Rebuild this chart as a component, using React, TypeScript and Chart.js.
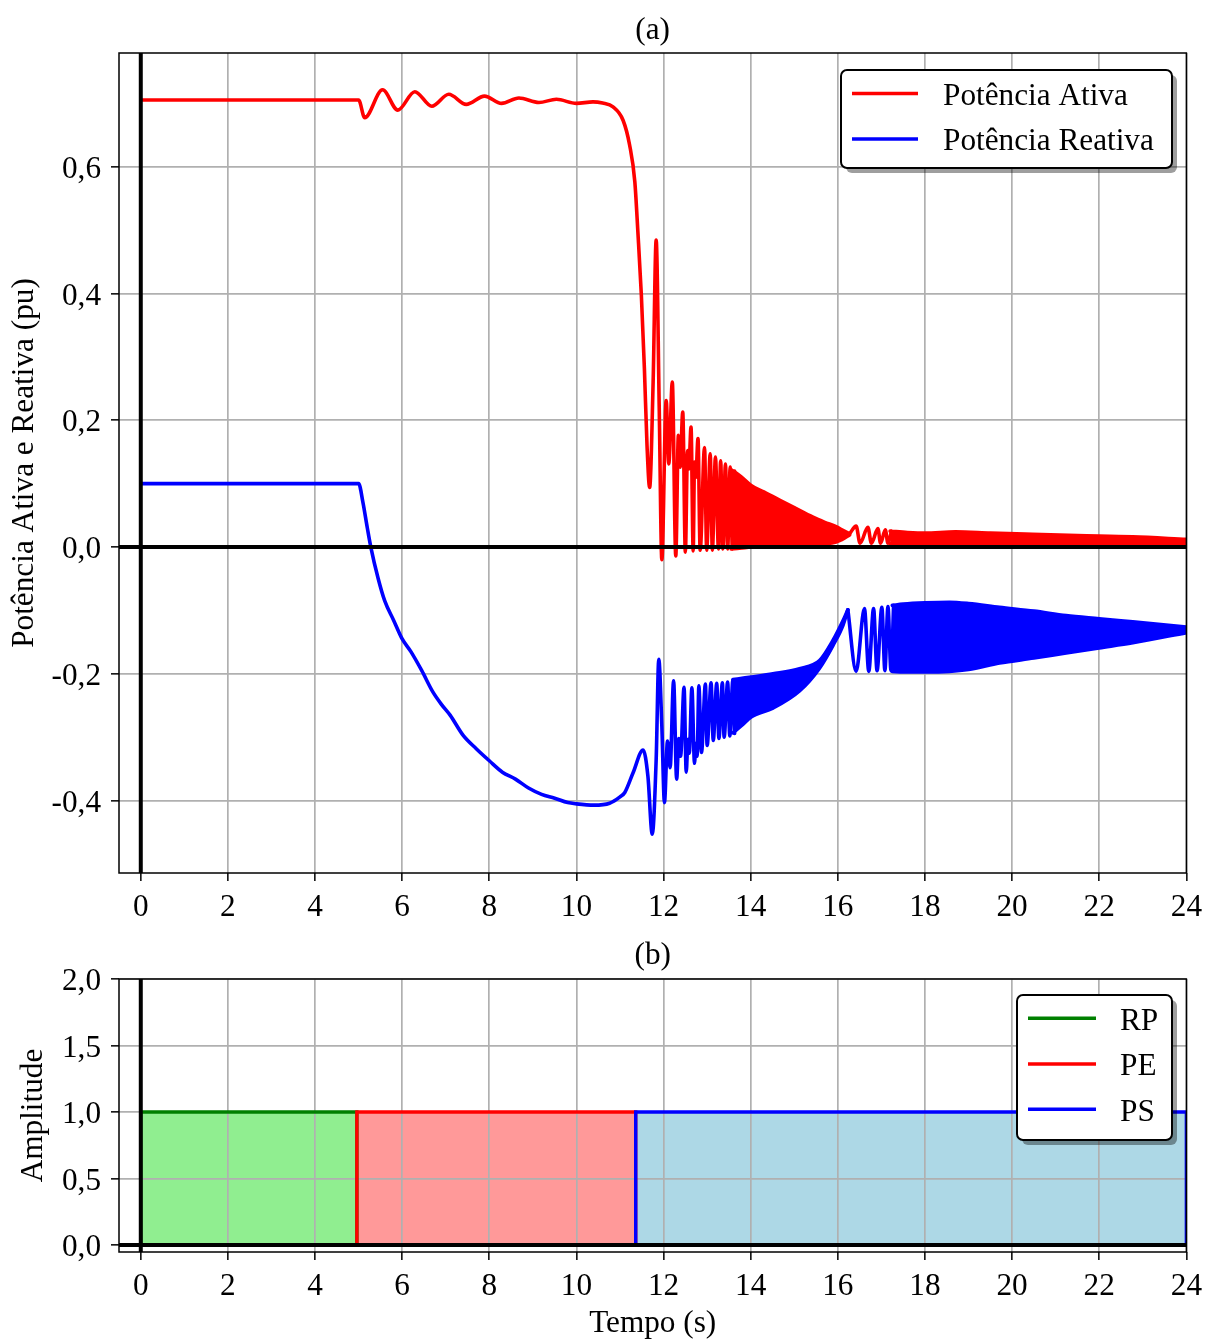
import React, { useEffect, useRef } from 'react';
import { Chart, registerables } from 'chart.js';

Chart.register(...registerables);

const FONT = "'Liberation Serif', 'Times New Roman', Times, serif";
const FS = 31.25;
const GRID = '#b0b0b0';
const RED = '#ff0000';
const BLUE = '#0000ff';
const LW = 3.6;
const TXT_DY = 3;

// ---------- (a) Potência Ativa: distinct oscillations ----------
const activeT = [0, 5.0, 5.14, 5.55, 5.90, 6.29, 6.68, 7.07, 7.47, 7.89, 8.28, 8.68, 9.14, 9.54, 10.0, 10.38, 10.6, 10.84, 11.07, 11.22, 11.34, 11.41, 11.49, 11.56, 11.62, 11.68, 11.76, 11.83, 11.90, 11.96, 12.06, 12.12, 12.20, 12.28, 12.34, 12.38, 12.44, 12.50, 12.55, 12.58, 12.63, 12.68, 12.71, 12.74, 12.79, 12.84, 12.94, 12.99, 13.07, 13.12, 13.19, 13.26, 13.31, 13.36, 13.42, 13.47, 13.53, 13.58, 13.63];
const activeP = [0.705, 0.705, 0.677, 0.721, 0.689, 0.718, 0.695, 0.714, 0.698, 0.711, 0.6995, 0.708, 0.701, 0.706, 0.6995, 0.702, 0.700, 0.694, 0.673, 0.634, 0.576, 0.497, 0.397, 0.281, 0.16, 0.094, 0.26, 0.484, 0.22, -0.02, 0.231, 0.131, 0.26, -0.014, 0.176, 0.126, 0.213, -0.008, 0.152, 0.123, 0.189, -0.006, 0.134, 0.11, 0.171, -0.005, 0.157, -0.005, 0.147, -0.005, 0.142, -0.003, 0.136, -0.003, 0.131, -0.003, 0.126, -0.003, 0.120];
// dense band 1 (envelopes)
const activeBand1T = [13.55, 13.74, 14.01, 14.3, 14.66, 15.0, 15.43, 15.7, 15.96, 16.15, 16.27];
const activeBand1Hi = [0.122, 0.113, 0.097, 0.087, 0.074, 0.062, 0.047, 0.039, 0.032, 0.025, 0.021];
const activeBand1Lo = [-0.003, -0.002, 0.0, 0.001, 0.002, 0.003, 0.004, 0.005, 0.008, 0.014, 0.019];
// distinct oscillations after 16 s
const activeT2 = [16.27, 16.42, 16.51, 16.69, 16.77, 16.92, 16.98, 17.09, 17.15, 17.23];
const activeP2 = [0.021, 0.033, 0.006, 0.031, 0.006, 0.029, 0.006, 0.027, 0.006, 0.025];
// dense band 2
const activeBand2T = [17.2, 17.6, 18.0, 18.7, 19.5, 20.47, 21.5, 22.77, 24];
const activeBand2Hi = [0.025, 0.023, 0.022, 0.024, 0.022, 0.020, 0.018, 0.016, 0.012];
const activeBand2Lo = [0.005, 0.004, 0.004, 0.004, 0.004, 0.004, 0.004, 0.004, 0.004];

// ---------- (a) Potência Reativa ----------
const reactiveT = [0, 5.0, 5.1, 5.2, 5.28, 5.45, 5.6, 5.8, 6.0, 6.2, 6.45, 6.7, 6.9, 7.1, 7.4, 7.7, 8.0, 8.3, 8.6, 8.9, 9.2, 9.5, 9.8, 10.0, 10.4, 10.76, 11.0, 11.11, 11.3, 11.53, 11.64, 11.74, 11.83, 11.89, 11.96, 12.02, 12.09, 12.15, 12.23, 12.30, 12.35, 12.39, 12.47, 12.52, 12.56, 12.59, 12.65, 12.71, 12.74, 12.77, 12.81, 12.87, 12.96, 13.00, 13.09, 13.14, 13.22, 13.27, 13.35, 13.39, 13.47, 13.52, 13.59, 13.63];
const reactiveQ = [0.1, 0.1, 0.07, 0.03, 0.0, -0.05, -0.085, -0.115, -0.145, -0.165, -0.195, -0.228, -0.248, -0.265, -0.297, -0.318, -0.337, -0.355, -0.366, -0.38, -0.39, -0.396, -0.403, -0.405, -0.407, -0.404, -0.394, -0.387, -0.356, -0.32, -0.361, -0.453, -0.335, -0.177, -0.282, -0.403, -0.306, -0.348, -0.211, -0.366, -0.302, -0.33, -0.221, -0.355, -0.303, -0.325, -0.222, -0.341, -0.31, -0.33, -0.219, -0.324, -0.216, -0.313, -0.214, -0.305, -0.215, -0.302, -0.214, -0.300, -0.213, -0.298, -0.210, -0.294];
const reactiveBand1T = [13.59, 13.8, 14.01, 14.51, 15.12, 15.58, 15.89, 16.12, 16.23];
const reactiveBand1Hi = [-0.209, -0.207, -0.205, -0.200, -0.192, -0.179, -0.147, -0.116, -0.099];
const reactiveBand1Lo = [-0.293, -0.281, -0.268, -0.254, -0.227, -0.191, -0.155, -0.123, -0.099];
const reactiveT2 = [16.23, 16.42, 16.61, 16.71, 16.82, 16.90, 17.01, 17.08, 17.15, 17.22, 17.28];
const reactiveQ2 = [-0.099, -0.196, -0.097, -0.196, -0.097, -0.195, -0.095, -0.195, -0.094, -0.195, -0.092];
const reactiveBand2T = [17.25, 17.5, 18.0, 18.56, 19.0, 19.71, 20.5, 21.24, 22.0, 22.77, 24];
const reactiveBand2Hi = [-0.092, -0.090, -0.088, -0.087, -0.089, -0.095, -0.101, -0.108, -0.113, -0.118, -0.126];
const reactiveBand2Lo = [-0.196, -0.197, -0.197, -0.196, -0.193, -0.183, -0.175, -0.167, -0.159, -0.151, -0.135];

// ---------- (b) phases ----------
const phaseNames = ['RP', 'PE', 'PS'];
const phaseStart = [0, 4.96, 11.36];
const phaseEnd = [4.96, 11.36, 24];
const phaseAmplitude = [1, 1, 1];
const phaseLine = ['#008000', '#ff0000', '#0000ff'];
const phaseFill = ['#90ee90', '#ff9999', '#add8e6'];

// ---------- ticks ----------
const xTicks = [0, 2, 4, 6, 8, 10, 12, 14, 16, 18, 20, 22, 24];
const yTicksA = [-0.4, -0.2, 0, 0.2, 0.4, 0.6];
const yTicksB = [0, 0.5, 1, 1.5, 2];

const pts = (t: number[], v: number[]) => t.map((x, i) => ({ x, y: v[i] }));
const fmt = (v: number) => Number(v).toFixed(1).replace('.', ',');

function xScale(ticks: number[]) {
  return {
    type: 'linear',
    min: -0.5,
    max: 24,
    afterBuildTicks: (s: any) => { s.ticks = ticks.map((v) => ({ value: v })); },
    afterFit: (s: any) => { s.height = 60; },
    grid: { color: GRID, lineWidth: 1.7, tickColor: '#000', tickWidth: 1.5, tickLength: 8, drawTicks: true },
    border: { display: false },
    ticks: { color: '#000', font: { family: FONT, size: FS }, padding: 8, maxRotation: 0, autoSkip: false, callback: (v: any) => String(v) },
  };
}
function yScale(min: number, max: number, ticks: number[]) {
  return {
    type: 'linear',
    min,
    max,
    afterBuildTicks: (s: any) => { s.ticks = ticks.map((v) => ({ value: v })); },
    afterFit: (s: any) => { s.width = 119; },
    grid: { color: GRID, lineWidth: 1.7, tickColor: '#000', tickWidth: 1.5, tickLength: 8, drawTicks: true },
    border: { display: false },
    ticks: { color: '#000', font: { family: FONT, size: FS }, padding: 10, labelOffset: 3, autoSkip: false, callback: (v: any) => fmt(v) },
  };
}

function lineDs(data: any[], color: string, extra: any = {}) {
  return {
    data,
    borderColor: color,
    backgroundColor: color,
    borderWidth: LW,
    pointRadius: 0,
    fill: false,
    cubicInterpolationMode: 'monotone',
    borderJoinStyle: 'round',
    borderCapStyle: 'round',
    ...extra,
  };
}

type LegendItem = { label: string; color: string; y: number };
function drawLegend(ctx: CanvasRenderingContext2D, bx: number, by: number, bw: number, bh: number, items: LegendItem[], lx0: number, lx1: number, tx: number) {
  ctx.save();
  ctx.fillStyle = 'rgba(0,0,0,0.38)';
  ctx.beginPath();
  (ctx as any).roundRect(bx + 5, by + 5, bw, bh, 6);
  ctx.fill();
  ctx.fillStyle = '#ffffff';
  ctx.strokeStyle = '#000';
  ctx.lineWidth = 2;
  ctx.beginPath();
  (ctx as any).roundRect(bx, by, bw, bh, 6);
  ctx.fill();
  ctx.stroke();
  items.forEach((it) => {
    ctx.strokeStyle = it.color;
    ctx.lineWidth = 3.4;
    ctx.beginPath();
    ctx.moveTo(lx0, it.y);
    ctx.lineTo(lx1, it.y);
    ctx.stroke();
    ctx.fillStyle = '#000';
    ctx.font = `${FS}px ${FONT}`;
    ctx.textAlign = 'left';
    ctx.textBaseline = 'middle';
    ctx.fillText(it.label, tx, it.y + TXT_DY);
  });
  ctx.restore();
}

function drawText(ctx: CanvasRenderingContext2D, text: string, x: number, y: number, rot = false) {
  ctx.save();
  ctx.fillStyle = '#000';
  ctx.font = `${FS}px ${FONT}`;
  ctx.textAlign = 'center';
  ctx.textBaseline = 'middle';
  ctx.translate(x, y);
  if (rot) ctx.rotate(-Math.PI / 2);
  ctx.fillText(text, 0, 0);
  ctx.restore();
}

function framePlugin(id: string) {
  return {
    id,
    afterDatasetsDraw(chart: any) {
      const { ctx, chartArea: a } = chart;
      const x = chart.scales.x;
      const y = chart.scales.y;
      ctx.save();
      ctx.beginPath();
      ctx.rect(a.left, a.top, a.right - a.left, a.bottom - a.top);
      ctx.clip();
      ctx.strokeStyle = '#000';
      ctx.lineWidth = 4;
      const x0 = x.getPixelForValue(0);
      const y0 = y.getPixelForValue(0);
      ctx.beginPath();
      ctx.moveTo(a.left, y0);
      ctx.lineTo(a.right, y0);
      ctx.stroke();
      ctx.beginPath();
      ctx.moveTo(x0, a.top);
      ctx.lineTo(x0, a.bottom);
      ctx.stroke();
      ctx.restore();
      ctx.save();
      ctx.strokeStyle = '#000';
      ctx.lineWidth = 1.5;
      ctx.strokeRect(a.left, a.top, a.right - a.left, a.bottom - a.top);
      ctx.restore();
    },
  };
}

function configA(): any {
  return {
    type: 'line',
    data: {
      datasets: [
        lineDs(pts(activeT, activeP), RED),
        lineDs(pts(activeBand1T, activeBand1Hi), RED),
        lineDs(pts(activeBand1T, activeBand1Lo), RED, { fill: '-1' }),
        lineDs(pts(activeT2, activeP2), RED),
        lineDs(pts(activeBand2T, activeBand2Hi), RED),
        lineDs(pts(activeBand2T, activeBand2Lo), RED, { fill: '-1' }),
        lineDs(pts(reactiveT, reactiveQ), BLUE),
        lineDs(pts(reactiveBand1T, reactiveBand1Hi), BLUE),
        lineDs(pts(reactiveBand1T, reactiveBand1Lo), BLUE, { fill: '-1' }),
        lineDs(pts(reactiveT2, reactiveQ2), BLUE),
        lineDs(pts(reactiveBand2T, reactiveBand2Hi), BLUE),
        lineDs(pts(reactiveBand2T, reactiveBand2Lo), BLUE, { fill: '-1' }),
      ],
    },
    options: {
      animation: false,
      responsive: false,
      events: [],
      layout: { padding: { top: 53, left: 0, right: 22, bottom: 7 } },
      plugins: { legend: { display: false }, tooltip: { enabled: false } },
      scales: { x: xScale(xTicks), y: yScale(-0.514, 0.779, yTicksA) },
    },
    plugins: [
      framePlugin('frameA'),
      {
        id: 'decoA',
        afterDraw(chart: any) {
          const ctx = chart.ctx;
          const a = chart.chartArea;
          const cx = (a.left + a.right) / 2;
          drawText(ctx, '(a)', cx, 28 + TXT_DY);
          drawText(ctx, 'Potência Ativa e Reativa (pu)', 25, (a.top + a.bottom) / 2, true);
          drawLegend(ctx, 841, 70, 331, 98, [
            { label: 'Potência Ativa', color: RED, y: 93.5 },
            { label: 'Potência Reativa', color: BLUE, y: 139 },
          ], 852, 918, 943);
        },
      },
    ],
  };
}

function configB(): any {
  const datasets = phaseNames.map((name, i) => ({
    label: name,
    data: [
      { x: 0, y: 0 },
      { x: phaseStart[i], y: 0 },
      { x: phaseStart[i], y: phaseAmplitude[i] },
      { x: phaseEnd[i], y: phaseAmplitude[i] },
      { x: phaseEnd[i], y: 0 },
      { x: 24, y: 0 },
    ],
    borderColor: phaseLine[i],
    backgroundColor: phaseFill[i],
    borderWidth: 3.4,
    pointRadius: 0,
    fill: 'origin',
    tension: 0,
    order: phaseNames.length - i,
  }));
  return {
    type: 'line',
    data: { datasets },
    options: {
      animation: false,
      responsive: false,
      events: [],
      layout: { padding: { top: 39, left: 0, right: 22, bottom: 28 } },
      plugins: { legend: { display: false }, tooltip: { enabled: false }, filler: { drawTime: 'beforeDraw' } },
      scales: { x: xScale(xTicks), y: yScale(-0.053, 2.0, yTicksB) },
    },
    plugins: [
      framePlugin('frameB'),
      {
        id: 'decoB',
        afterDraw(chart: any) {
          const ctx = chart.ctx;
          const a = chart.chartArea;
          const cx = (a.left + a.right) / 2;
          drawText(ctx, '(b)', cx, 13 + TXT_DY);
          drawText(ctx, 'Amplitude', 34, (a.top + a.bottom) / 2, true);
          drawText(ctx, 'Tempo (s)', cx, 382 + 2);
          drawLegend(ctx, 1017, 55, 155, 145, phaseNames.map((n, i) => ({ label: n, color: phaseLine[i], y: [78.3, 124, 169.3][i] })), 1028, 1096, 1120);
        },
      },
    ],
  };
}

export default function App() {
  const r1 = useRef<HTMLCanvasElement>(null);
  const r2 = useRef<HTMLCanvasElement>(null);
  useEffect(() => {
    const c1 = new Chart(r1.current as HTMLCanvasElement, configA());
    const c2 = new Chart(r2.current as HTMLCanvasElement, configB());
    return () => {
      c1.destroy();
      c2.destroy();
    };
  }, []);
  return (
    <div style={{ position: 'absolute', left: 0, top: 0, width: 1210, height: 1340, background: '#fff' }}>
      <canvas ref={r1} width={1210} height={940} style={{ position: 'absolute', left: 0, top: 0, width: 1210, height: 940 }} />
      <canvas ref={r2} width={1210} height={400} style={{ position: 'absolute', left: 0, top: 940, width: 1210, height: 400 }} />
    </div>
  );
}
